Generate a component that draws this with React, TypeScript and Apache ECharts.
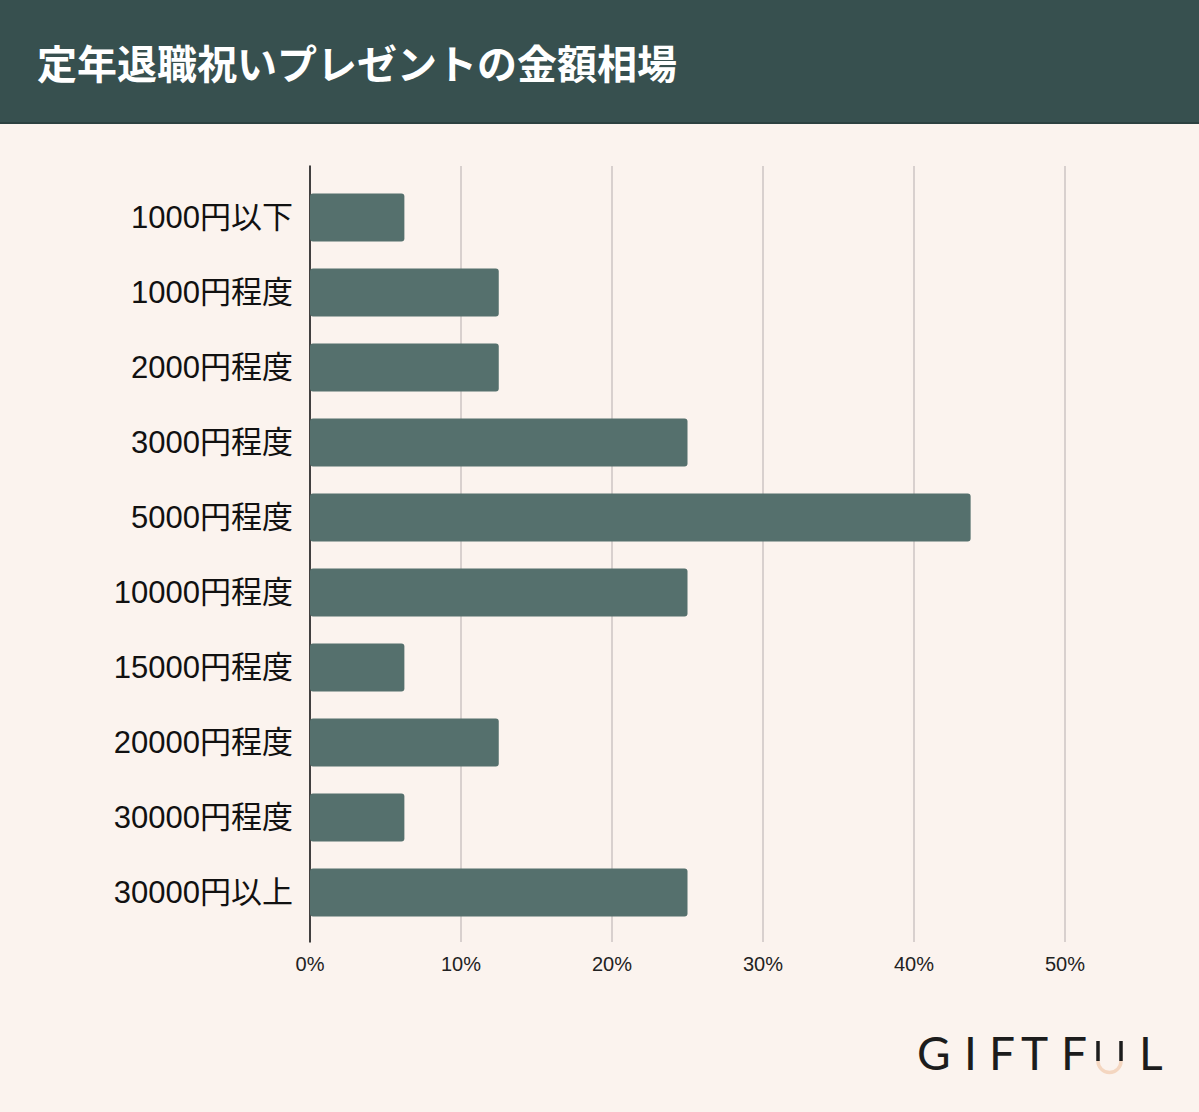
import React, { useEffect, useRef } from "react";
import * as echarts from "echarts";

const categories = [
  "1000円以下",
  "1000円程度",
  "2000円程度",
  "3000円程度",
  "5000円程度",
  "10000円程度",
  "15000円程度",
  "20000円程度",
  "30000円程度",
  "30000円以上",
];
const values = [6.25, 12.5, 12.5, 25, 43.75, 25, 6.25, 12.5, 6.25, 25];
const title = "定年退職祝いプレゼントの金額相場";
const logoLetters = [
  { ch: "G", x: 917 },
  { ch: "I", x: 964 },
  { ch: "F", x: 989 },
  { ch: "T", x: 1021 },
  { ch: "F", x: 1061 },
  { ch: "L", x: 1139 },
];

export default function App() {
  const ref = useRef<HTMLDivElement>(null);
  useEffect(() => {
    document.body.style.margin = "0";
    const chart = echarts.init(ref.current!, null, { renderer: "svg" });
    const font = "'Liberation Sans', Arial, 'Noto Sans CJK JP', sans-serif";
    chart.setOption({
      animation: false,
      backgroundColor: "#fbf3ee",
      grid: [
        { left: 310, right: 134, top: 166, bottom: 170, containLabel: false },
        { left: 310, right: 134, top: 180, bottom: 182, containLabel: false },
      ],
      xAxis: [
        {
          type: "value",
          gridIndex: 0,
          min: 0,
          max: 50,
          interval: 10,
          axisLine: { show: false },
          axisTick: { show: false },
          axisLabel: {
            formatter: "{value}%",
            fontSize: 20,
            color: "#222",
            margin: 12,
            fontFamily: font,
          },
          splitLine: { lineStyle: { color: "#cdc5c3", width: 1.5 } },
        },
        {
          type: "value",
          gridIndex: 1,
          min: 0,
          max: 50,
          interval: 10,
          show: false,
          splitLine: { show: false },
        },
      ],
      yAxis: [
        {
          type: "value",
          gridIndex: 0,
          min: 0,
          max: 1,
          axisLine: { show: true, lineStyle: { color: "#111", width: 1.5 } },
          axisTick: { show: false },
          axisLabel: { show: false },
          splitLine: { show: false },
        },
        {
          type: "category",
          gridIndex: 1,
          data: categories,
          inverse: true,
          axisLine: { show: false },
          axisTick: { show: false },
          axisLabel: { fontSize: 31, color: "#111", margin: 17, fontFamily: font },
        },
      ],
      series: [
        {
          type: "bar",
          xAxisIndex: 1,
          yAxisIndex: 1,
          data: values,
          barWidth: 48,
          itemStyle: { color: "#55706d", borderRadius: 3 },
        },
      ],
      graphic: [
        {
          type: "rect",
          shape: { x: 0, y: 0, width: 1199, height: 123 },
          style: { fill: "#37504f" },
          z: 10,
        },
        {
          type: "rect",
          shape: { x: 0, y: 122, width: 1199, height: 2 },
          style: { fill: "#2c4140" },
          z: 10,
        },
        {
          type: "text",
          x: 37,
          y: 62,
          style: {
            text: title,
            fill: "#ffffff",
            fontSize: 40,
            fontWeight: "bold",
            fontFamily: "'Noto Sans CJK JP', sans-serif",
            verticalAlign: "middle",
          },
          z: 11,
        },
        ...logoLetters.map((l) => ({
          type: "text",
          x: l.x,
          y: 1075,
          style: {
            text: l.ch,
            fill: "#1c1c1c",
            fontSize: 46,
            fontWeight: "normal",
            fontFamily: "Lato, 'DejaVu Sans', sans-serif",
            verticalAlign: "bottom",
          },
          z: 11,
        })),
        {
          type: "line",
          shape: { x1: 1098, y1: 1041, x2: 1098, y2: 1061 },
          style: { stroke: "#1c1c1c", lineWidth: 3.5 },
          z: 11,
        },
        {
          type: "line",
          shape: { x1: 1121, y1: 1041, x2: 1121, y2: 1061 },
          style: { stroke: "#1c1c1c", lineWidth: 3.5 },
          z: 11,
        },
        {
          type: "arc",
          shape: { cx: 1109.5, cy: 1061, r: 11.5, startAngle: 0, endAngle: Math.PI, clockwise: true },
          style: { stroke: "#f4d6c0", lineWidth: 3.5, fill: "none" },
          z: 11,
        },
      ],
    });
    return () => chart.dispose();
  }, []);
  return <div ref={ref} style={{ width: 1199, height: 1112 }} />;
}
